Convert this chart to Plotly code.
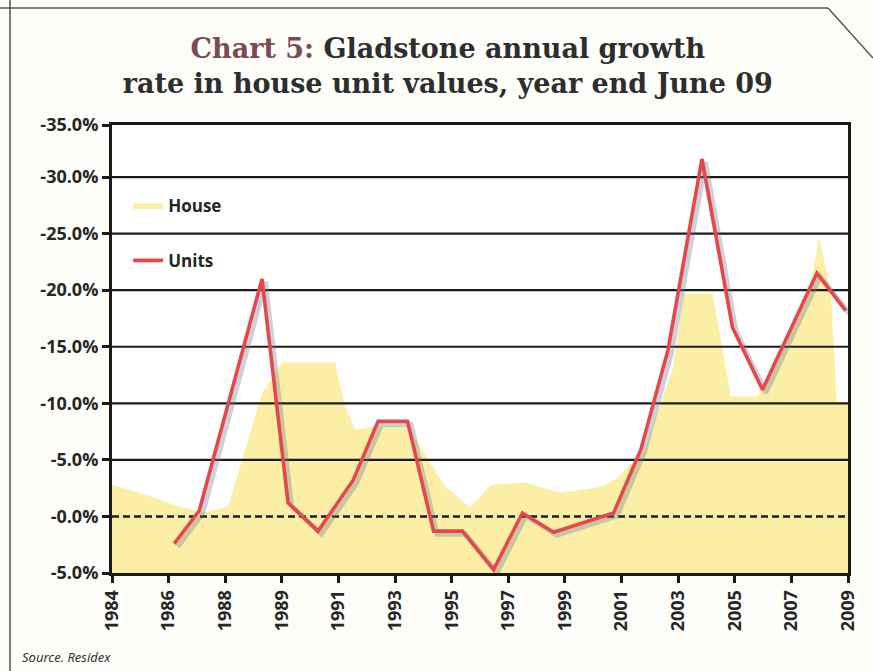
import plotly.graph_objects as go

# ---------------- data ----------------
year_labels = ["1984", "1986", "1988", "1989", "1991", "1993", "1995",
               "1997", "1999", "2001", "2003", "2005", "2007", "2009"]

y_tickvals = [-5, 0, 5, 10, 15, 20, 25, 30, 34.6]
y_ticktext = ["-5.0%", "-0.0%", "-5.0%", "-10.0%", "-15.0%", "-20.0%",
              "-25.0%", "-30.0%", "-35.0%"]

# positions on the (evenly spaced) label index axis
house_x = [0, 0.67, 1.15, 1.64, 2.05, 2.65, 3.0, 3.94, 4.12, 4.3, 4.70, 5.22,
           5.89, 6.33, 6.69, 7.30, 7.92, 8.63, 8.90, 9.40, 9.90, 10.10, 10.61,
           10.93, 11.41, 12.31, 12.49, 12.70, 12.80, 13.0]
house_pct = [2.8, 1.8, 0.9, 0.35, 0.9, 10.9, 13.6, 13.6, 9.7, 7.7, 8.0, 8.0,
             2.6, 0.8, 2.8, 3.0, 2.1, 2.6, 3.3, 5.8, 13.0, 19.7, 19.7,
             10.6, 10.6, 19.7, 24.7, 19.7, 10.3, 9.9]

units_x = [1.10, 1.54, 2.65, 3.11, 3.64, 4.26, 4.70, 5.22, 5.68, 6.19, 6.74,
           7.25, 7.80, 8.86, 9.34, 9.82, 10.42, 10.96, 11.49, 12.45, 12.96]
units_pct = [-2.4, 0.5, 21.0, 1.2, -1.3, 3.2, 8.4, 8.4, -1.3, -1.3, -4.7,
             0.3, -1.4, 0.3, 5.9, 14.7, 31.6, 16.7, 11.2, 21.5, 18.2]

# ---------------- figure ----------------
x_min, x_max = 0, len(year_labels) - 1
y_min, y_max = y_tickvals[0], y_tickvals[-1]

fig = go.Figure()

# baseline for the house area (bottom of axis)
fig.add_trace(go.Scatter(x=[x_min, x_max], y=[y_min, y_min], mode="lines",
                         line=dict(width=0), showlegend=False, hoverinfo="skip"))
fig.add_trace(go.Scatter(x=house_x, y=house_pct, mode="lines", name="House",
                         fill="tonexty", fillcolor="#FBEFA6",
                         line=dict(width=0, color="#FBEFA6"),
                         legendgroup="h"))

# horizontal gridlines drawn over the area
gx, gy = [], []
for v in y_tickvals[2:-1]:
    gx += [x_min, x_max, None]
    gy += [v, v, None]
fig.add_trace(go.Scatter(x=gx, y=gy, mode="lines", line=dict(color="#1c1c1c", width=2.2),
                         showlegend=False, hoverinfo="skip"))
fig.add_trace(go.Scatter(x=[x_min, x_max], y=[0, 0], mode="lines",
                         line=dict(color="#1c1c1c", width=2.5, dash="7px,4px"),
                         showlegend=False, hoverinfo="skip"))

# drop shadow of units line (overlay axes slightly offset)
fig.add_trace(go.Scatter(x=units_x, y=units_pct, mode="lines", xaxis="x2", yaxis="y2",
                         line=dict(color="rgba(110,120,150,0.35)", width=5),
                         showlegend=False, hoverinfo="skip"))
# units line
fig.add_trace(go.Scatter(x=units_x, y=units_pct, mode="lines", name="Units",
                         xaxis="x3", yaxis="y3",
                         line=dict(color="#E5484B", width=3.6),
                         legendgroup="u"))

dx, dy = 0.06, 0.27
tick_font = dict(family="Open Sans", size=18, color="#262626", weight="bold")
fig.update_layout(
    width=873, height=671,
    paper_bgcolor="#FDFDFA", plot_bgcolor="#FFFFFF",
    margin=dict(l=112, r=25, t=125, b=98),
    title=dict(
        text="<span style='color:#7a4a55'>Chart 5:</span> Gladstone annual growth<br>"
             "rate in house unit values, year end June 09",
        font=dict(family="DejaVu Serif", size=27, color="#2e2e2e", weight="bold"),
        x=0.513, xref="container", xanchor="center",
        y=0.914, yref="container", yanchor="middle"),
    xaxis=dict(range=[x_min, x_max], tickmode="array",
               tickvals=list(range(len(year_labels))), ticktext=year_labels,
               tickangle=-90, ticks="outside", ticklen=7, tickwidth=3,
               tickcolor="#1a1a1a", showline=True, linecolor="#1a1a1a",
               linewidth=3, mirror=True, showgrid=False, zeroline=False,
               tickfont=tick_font),
    yaxis=dict(range=[y_min, y_max], tickmode="array", tickvals=y_tickvals,
               ticktext=y_ticktext, ticks="outside", ticklen=7, tickwidth=2.5,
               tickcolor="#1a1a1a", showline=True, linecolor="#1a1a1a",
               linewidth=3, mirror=True, showgrid=False, zeroline=False,
               tickfont=tick_font),
    xaxis2=dict(overlaying="x", range=[x_min - dx, x_max - dx], visible=False),
    yaxis2=dict(overlaying="y", range=[y_min + dy, y_max + dy], visible=False),
    xaxis3=dict(overlaying="x", range=[x_min, x_max], visible=False),
    yaxis3=dict(overlaying="y", range=[y_min, y_max], visible=False),
    legend=dict(x=0.022, y=0.86, xanchor="left", yanchor="top",
                bgcolor="rgba(0,0,0,0)", tracegroupgap=30,
                font=dict(family="Open Sans", size=17, color="#262626", weight="bold")),
    showlegend=True,
)

fig.add_annotation(text="Source. Residex", xref="paper", yref="paper",
                   x=(20 - 112) / 736, y=(573 - 657) / 448, xanchor="left",
                   yanchor="middle", showarrow=False,
                   font=dict(family="Noto Sans", size=13, color="#333333", style="italic"))

# page edge decorations (scan border)
edge = dict(color="#555555", width=1.5)
fig.add_shape(type="line", xref="paper", yref="paper",
              x0=(10 - 112) / 736, x1=(10 - 112) / 736,
              y0=(573 - 671) / 448, y1=(573 - 0) / 448, line=edge)
fig.add_shape(type="line", xref="paper", yref="paper",
              x0=(0 - 112) / 736, x1=(828 - 112) / 736,
              y0=(573 - 8) / 448, y1=(573 - 8) / 448, line=edge)
fig.add_shape(type="line", xref="paper", yref="paper",
              x0=(828 - 112) / 736, x1=(873 - 112) / 736,
              y0=(573 - 8) / 448, y1=(573 - 58) / 448, line=edge)

fig.write_html("out.html",
               config={"displayModeBar": False},
               post_script="document.body.style.margin='0px';"
                           "document.body.style.overflow='hidden';")
